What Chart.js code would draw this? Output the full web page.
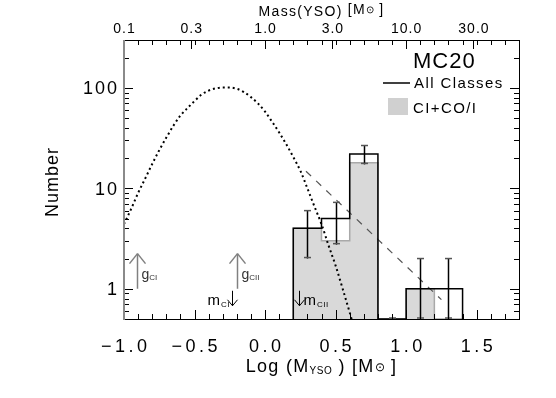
<!DOCTYPE html>
<html>
<head>
<meta charset="utf-8">
<script src="https://cdn.jsdelivr.net/npm/chart.js@4.4.1/dist/chart.umd.min.js"></script>
<style>
  html, body { margin: 0; padding: 0; background: #fff; }
</style>
</head>
<body>
<canvas id="mass-hist" width="556" height="398"></canvas>
<script>
// histogram bins in Log(M_YSO)
const binEdges = [0.2, 0.4, 0.6, 0.8, 1.0, 1.2, 1.4];
const allClasses = [4, 5, 22, 0, 1, 1];
const classIFlat = [4, 3, 18, 0, 1, 0];

// poisson error bars
const errCenters = [0.3, 0.5, 0.7, 0.9, 1.1, 1.3];
const errLow = [2.0, 2.75, 17.3, 0, 0, 0];
const errHigh = [6.0, 7.25, 26.7, 0, 2.0, 2.0];

// dotted model curve
const modelLogM = [-1.0, -0.95, -0.90, -0.85, -0.80, -0.75, -0.70, -0.65, -0.60, -0.55, -0.50, -0.45, -0.40, -0.35, -0.30, -0.25, -0.20, -0.15, -0.10, -0.05, 0.0, 0.05, 0.10, 0.15, 0.20, 0.25, 0.30, 0.35, 0.40, 0.45, 0.50, 0.55, 0.60, 0.65];
const modelN = [4.4, 6.2, 9.0, 12.5, 17.5, 24, 32, 42, 53, 63, 74, 86, 94, 99, 101, 101, 98, 91, 81, 70, 58, 46, 36, 27.5, 20.5, 15, 10, 6.6, 4.4, 2.7, 1.7, 1.0, 0.58, 0.33];

// dashed power-law fit
const slopeLogM = [0.29, 1.25];
const slopeN = [14.8, 0.78];

// tick labels
const xTicks = [-1.0, -0.5, 0.0, 0.5, 1.0, 1.5];
const massTicks = [0.1, 0.3, 1.0, 3.0, 10.0, 30.0];
const yTicks = [1, 10, 100];

// characteristic mass markers
const gArrows = [{ x: -0.908, sub: 'CI' }, { x: -0.199, sub: 'CII' }];
const mArrows = [{ x: -0.234, sub: 'CI', side: 'left' }, { x: 0.24, sub: 'CII', side: 'right' }];

const yMin = 0.5;
const yMax = 300;
const FONT = '"Liberation Sans", Arial, sans-serif';

function stepPoints(vals) {
    const last = vals.length;
    const pts = [{ x: binEdges[0], y: yMin }];
    vals.forEach((v, i) => pts.push({ x: binEdges[i], y: v > 0 ? v : yMin }));
    pts.push({ x: binEdges[last], y: vals[last - 1] > 0 ? vals[last - 1] : yMin });
    pts.push({ x: binEdges[last], y: yMin });
    return pts;
}

function textWidth(ctx, str, size, spacing) {
    ctx.font = size + 'px ' + FONT;
    ctx.letterSpacing = '0px';
    return ctx.measureText(str).width + spacing * (str.length - 1);
}

function put(ctx, str, px, py, size, spacing, align) {
    const w = textWidth(ctx, str, size, spacing);
    let left = px;
    if (align === 'center') left = px - w / 2;
    if (align === 'right') left = px - w;
    ctx.letterSpacing = spacing + 'px';
    ctx.textAlign = 'left';
    ctx.textBaseline = 'alphabetic';
    ctx.fillText(str, left, py);
    ctx.letterSpacing = '0px';
    return left + w + spacing;
}

// parts: [text, size, dy, spacing]
function rich(ctx, parts, cx, base) {
    let total = 0;
    parts.forEach(p => { total += textWidth(ctx, p[0], p[1], p[3]) + p[3]; });
    let px = cx - total / 2;
    parts.forEach(p => { px = put(ctx, p[0], px, base + p[2], p[1], p[3], 'left'); });
}

function line(ctx, x1, y1, x2, y2) {
    ctx.beginPath();
    ctx.moveTo(x1, y1);
    ctx.lineTo(x2, y2);
    ctx.stroke();
}

const framePlugin = {
    id: 'frame',
    afterDatasetsDraw(chart) {
        const { ctx, chartArea: a, scales } = chart;
        const xs = scales.x, xt = scales.x2, ys = scales.y;
        ctx.save();

        // error bars
        ctx.lineWidth = 1.5;
        errCenters.forEach((c, i) => {
            const px = Math.round(xs.getPixelForValue(c)) + 0.5;
            const lo = ys.getPixelForValue(Math.max(errLow[i], yMin));
            const hi = ys.getPixelForValue(Math.max(errHigh[i], yMin));
            ctx.strokeStyle = '#000';
            line(ctx, px, lo, px, hi);
            ctx.strokeStyle = '#555';
            line(ctx, px - 3.5, hi, px + 3.5, hi);
            line(ctx, px - 3.5, lo - 1, px + 3.5, lo - 1);
        });

        // g arrows (up)
        ctx.strokeStyle = '#808080';
        ctx.fillStyle = '#333';
        ctx.lineWidth = 1.5;
        gArrows.forEach(g => {
            const px = Math.round(xs.getPixelForValue(g.x)) + 0.5;
            const base = ys.getPixelForValue(1);
            const tip = ys.getPixelForValue(2.24);
            line(ctx, px, base, px, tip);
            line(ctx, px - 8, tip + 10, px, tip);
            line(ctx, px + 8, tip + 10, px, tip);
            const e = put(ctx, 'g', px + 4, base - 10, 14, 0, 'left');
            put(ctx, g.sub, e, base - 9, 8, 0, 'left');
        });

        // m arrows (down)
        ctx.strokeStyle = '#000';
        ctx.fillStyle = '#000';
        ctx.lineWidth = 1;
        mArrows.forEach(m => {
            const px = Math.round(xs.getPixelForValue(m.x)) + 0.5;
            const top = ys.getPixelForValue(1) + 2;
            const tip = top + 15;
            line(ctx, px, top, px, tip);
            line(ctx, px - 5, tip - 6, px, tip);
            line(ctx, px + 5, tip - 6, px, tip);
            if (m.side === 'left') {
                const ws = textWidth(ctx, m.sub, 8, 0.5);
                const wm = textWidth(ctx, 'm', 15, 0);
                put(ctx, 'm', px - 4 - ws - wm, tip - 1, 15, 0, 'left');
                put(ctx, m.sub, px - 3 - ws, tip + 1, 8, 0.5, 'left');
            } else {
                const e = put(ctx, 'm', px + 4, tip - 1, 15, 0, 'left');
                put(ctx, m.sub, e + 1, tip + 1, 8, 0.5, 'left');
            }
        });

        // tick marks, all pointing inwards
        ctx.strokeStyle = '#000';
        ctx.lineWidth = 1;
        for (let k = -10; k <= 18; k++) {
            const px = Math.round(xs.getPixelForValue(k / 10)) + 0.5;
            const len = k % 5 === 0 ? 9 : 5;
            line(ctx, px, a.bottom, px, a.bottom - len);
            line(ctx, px, a.top, px, a.top + 5);
        }
        massTicks.forEach(m => {
            const px = Math.round(xt.getPixelForValue(Math.log10(m))) + 0.5;
            line(ctx, px, a.top, px, a.top + 9);
        });
        [0.1, 1, 10, 100].forEach(d => {
            for (let m = 1; m <= 9; m++) {
                const v = m * d;
                if (v < yMin || v > yMax) continue;
                const py = Math.round(ys.getPixelForValue(v)) + 0.5;
                const len = m === 1 ? 9 : 5;
                line(ctx, a.left, py, a.left + len, py);
                line(ctx, a.right, py, a.right - len, py);
            }
        });

        // frame
        line(ctx, a.left, a.top + 0.5, a.right, a.top + 0.5);
        line(ctx, a.left, a.bottom + 0.5, a.right, a.bottom + 0.5);
        line(ctx, a.right + 0.5, a.top, a.right + 0.5, a.bottom + 1);
        ctx.strokeStyle = '#8a8a8a';
        ctx.lineWidth = 2;
        line(ctx, a.left, a.top, a.left, a.bottom + 1);

        // tick labels
        ctx.fillStyle = '#000';
        xTicks.forEach(v => {
            const px = xs.getPixelForValue(v);
            put(ctx, v.toFixed(1).replace('-', '\u2212'), px, 352, 18, 3.5, 'center');
        });
        massTicks.forEach(m => {
            const px = xt.getPixelForValue(Math.log10(m));
            put(ctx, m.toFixed(1), px, 33, 14, 1, 'center');
        });
        yTicks.forEach(v => {
            const py = ys.getPixelForValue(v);
            put(ctx, String(v), a.left - 7, py + 6.5, 18, 2, 'right');
        });

        // axis titles
        const cx = (a.left + a.right) / 2;
        rich(ctx, [['Log (M', 18, 0, 1.3], ['YSO', 10, 2, 0.5], [' ) [M', 18, 0, 1.3], ['\u2299', 12, -1, 0], [' ]', 18, 0, 1.3]], cx, 372);
        rich(ctx, [['Mass(YSO) ', 14, 0, 1.3], ['[M', 14, -2, 1.3], ['\u2299', 10, -3, 0], [' ]', 14, -2, 1.3]], cx, 16);
        ctx.save();
        ctx.translate(58, (a.top + a.bottom) / 2 + 3);
        ctx.rotate(-Math.PI / 2);
        put(ctx, 'Number', 0, 0, 18, 1, 'center');
        ctx.restore();

        // legend
        put(ctx, 'MC20', 413, 68, 22, 1, 'left');
        ctx.strokeStyle = '#000';
        ctx.lineWidth = 1.5;
        line(ctx, 383, 83, 410, 83);
        put(ctx, 'All Classes', 414, 88, 15, 1.4, 'left');
        ctx.fillStyle = '#d0d0d0';
        ctx.fillRect(388, 98, 20, 17);
        ctx.fillStyle = '#000';
        put(ctx, 'CI+CO/I', 413, 113, 15, 1.4, 'left');

        ctx.restore();
    }
};

const axisBase = {
    grid: { display: false },
    border: { display: false },
    ticks: { display: false }
};

const ctx = document.getElementById('mass-hist').getContext('2d');
new Chart(ctx, {
    type: 'line',
    data: {
        datasets: [
            {
                label: 'CI+CO/I',
                data: stepPoints(classIFlat),
                stepped: true,
                fill: 'start',
                backgroundColor: '#d9d9d9',
                borderColor: '#a9a9a9',
                borderWidth: 1.5,
                pointRadius: 0,
                order: 4
            },
            {
                label: 'model',
                data: modelLogM.map((v, i) => ({ x: v, y: modelN[i] })),
                borderColor: '#000',
                borderWidth: 2,
                borderDash: [2, 3],
                cubicInterpolationMode: 'monotone',
                fill: false,
                pointRadius: 0,
                order: 3
            },
            {
                label: 'slope',
                data: slopeLogM.map((v, i) => ({ x: v, y: slopeN[i] })),
                borderColor: '#555',
                borderWidth: 1.2,
                borderDash: [7, 7],
                fill: false,
                pointRadius: 0,
                order: 2
            },
            {
                label: 'All Classes',
                data: stepPoints(allClasses),
                stepped: true,
                fill: false,
                borderColor: '#000',
                borderWidth: 1.5,
                pointRadius: 0,
                order: 1
            }
        ]
    },
    options: {
        responsive: false,
        animation: false,
        devicePixelRatio: 1,
        layout: { padding: { left: 0, right: 37, top: 0, bottom: 0 } },
        plugins: { legend: { display: false }, tooltip: { enabled: false } },
        scales: {
            x: {
                ...axisBase, type: 'linear', position: 'bottom', min: -1.0, max: 1.8,
                afterFit: s => { s.height = 79; }
            },
            x2: {
                ...axisBase, type: 'linear', position: 'top', min: -1.0, max: 1.8,
                afterFit: s => { s.height = 40; }
            },
            y: {
                ...axisBase, type: 'logarithmic', position: 'left', min: yMin, max: yMax,
                afterFit: s => { s.width = 124; }
            }
        }
    },
    plugins: [framePlugin]
});
</script>
</body>
</html>
